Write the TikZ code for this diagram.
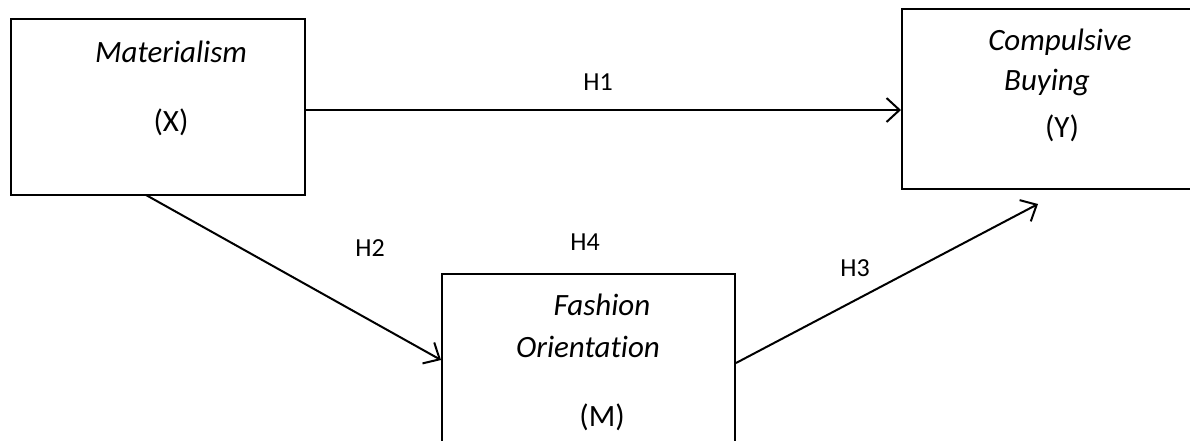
\documentclass[tikz,border=0pt]{standalone}
\usepackage{fontspec}
\setmainfont{Carlito}[Ligatures=NoCommon]
\usetikzlibrary{arrows.meta}
\begin{document}
\begin{tikzpicture}[x=1pt,y=-1pt,
  box/.style={draw,line width=2pt,rectangle,inner sep=0pt},
  lbl/.style={font=\fontsize{26}{30}\selectfont,inner sep=0pt},
  btxt/.style={font=\fontsize{31}{36}\selectfont,inner sep=0pt},
  vname/.style={font=\fontsize{31}{36}\selectfont\itshape,inner sep=0pt},
  arr/.style={line width=2pt,-{Straight Barb[length=13pt,width=24pt,line width=2pt]}}]
\useasboundingbox (0,0) rectangle (1190,440);
\clip (0,0) rectangle (1190,440);
% boxes
\node[box,minimum width=294pt,minimum height=176pt] (mat) at (158,107) {};
\node[box,minimum width=298pt,minimum height=180pt] (comp) at (1051,99) {};
\node[box,minimum width=293pt,minimum height=196pt] (fash) at (588.5,372) {};
% box texts
\node[vname] (matt) at (171,52) {Materialism};
\node[btxt] (matx) at (171,122) {(X)};
\node[vname] (compt) at (1060,42) {Compulsive};
\node[vname] (compb) at (1047,82) {Buying};
\node[btxt] (compy) at (1062,128) {(Y)};
\node[vname] (fasht) at (602,305) {Fashion};
\node[vname] (fasho) at (588,347) {Orientation};
\node[btxt] (fashm) at (602,417) {(M)};
% hypothesis labels
\node[lbl] (h1) at (598,82) {H1};
\node[lbl] (h2) at (370,248) {H2};
\node[lbl] (h4) at (585,242) {H4};
\node[lbl] (h3) at (855,268) {H3};
% connector anchors
\coordinate (a1) at (305,110);
\coordinate (b1) at (902,110);
\coordinate (a2) at (146,195);
\coordinate (b2) at (442,360);
\coordinate (a3) at (735,363);
\coordinate (b3) at (1038,204);
\draw[arr] (mat.east |- a1) -- (comp.west |- b1);
\draw[arr] (a2) -- (fash.west |- b2);
\draw[arr] (fash.east |- a3) -- (b3);
\end{tikzpicture}
\end{document}
